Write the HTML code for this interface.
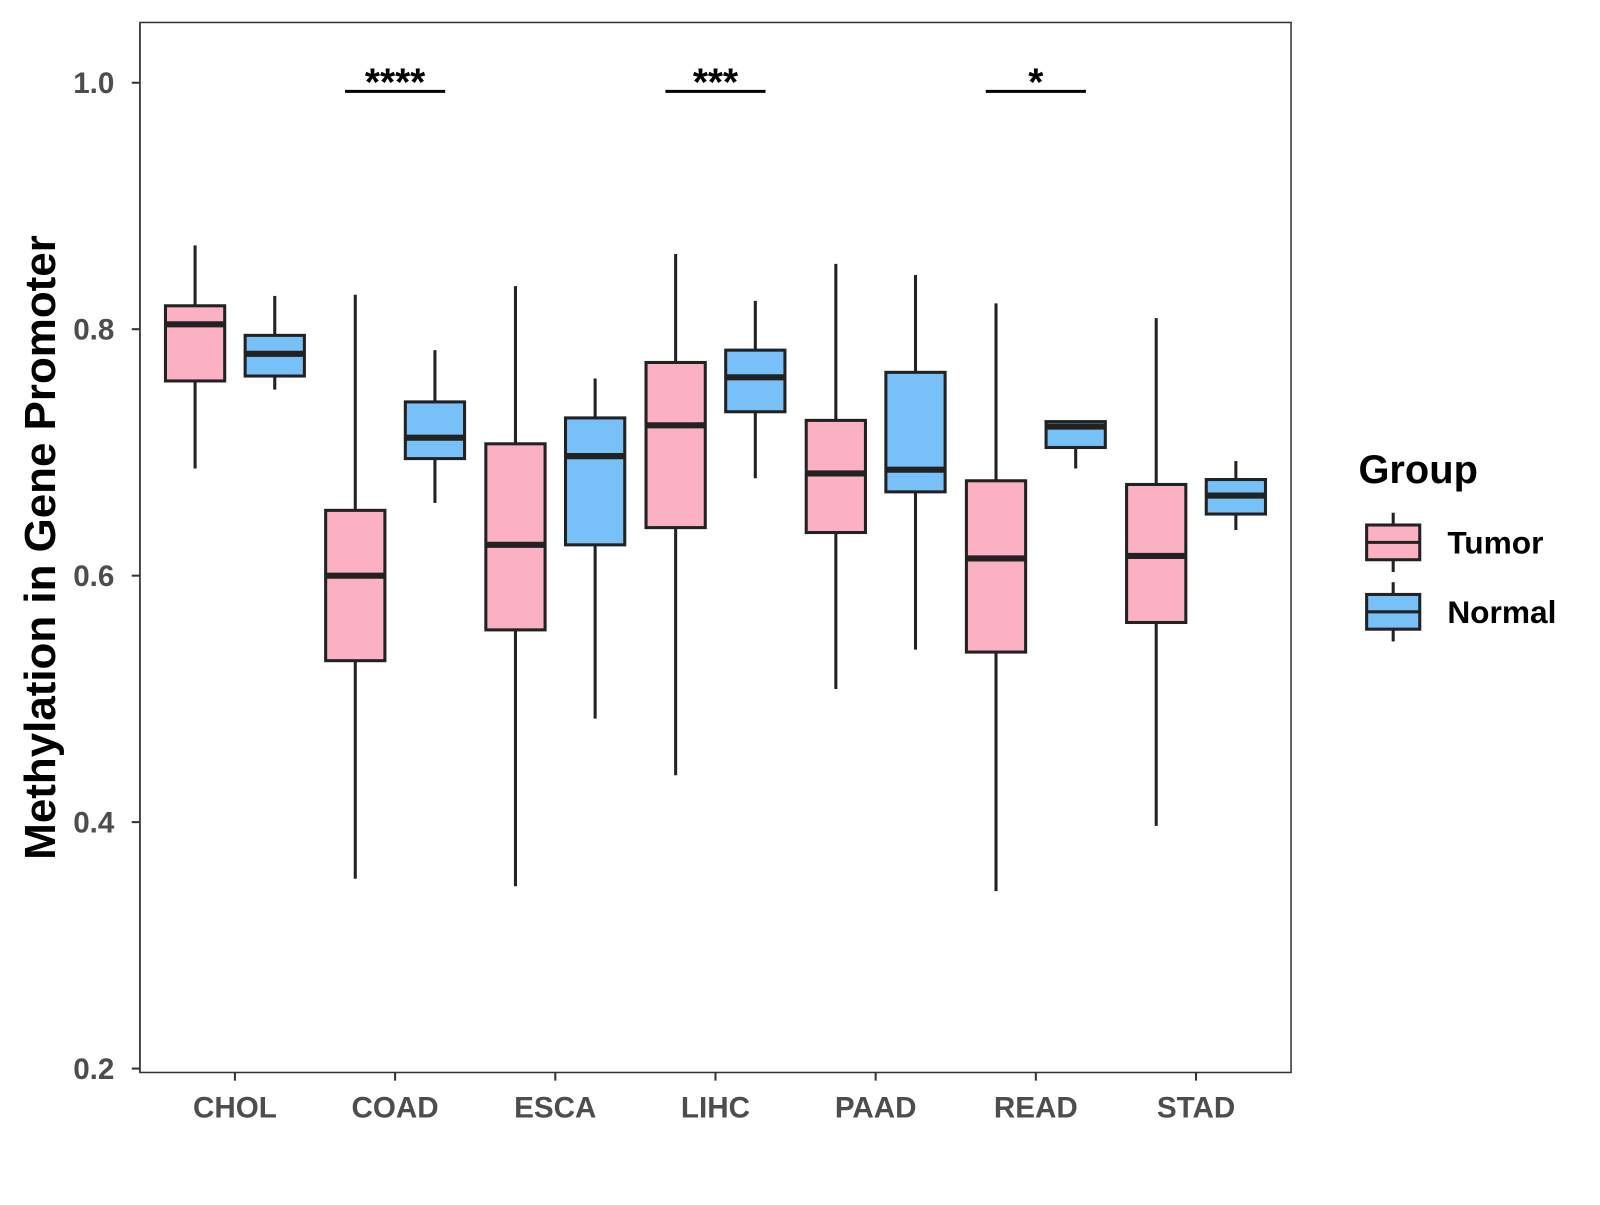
<!DOCTYPE html>
<html><head><meta charset="utf-8"><style>
html,body{margin:0;padding:0;background:#fff;}
svg text{font-family:"Liberation Sans",Arial,sans-serif;font-weight:bold;}
</style></head><body>
<svg id="chart" width="1600" height="1200" xmlns="http://www.w3.org/2000/svg">
<rect x="0" y="0" width="1600" height="1200" fill="#fff"/>
<g transform="scale(1.0214)">
<rect x="137" y="22" width="1127" height="1028" fill="none" stroke="#333" stroke-width="1.5"/>
<g id="marks"></g>
<text x="0" y="0" transform="translate(54,536) rotate(-90)" text-anchor="middle" font-size="43" fill="#000">Methylation in Gene Promoter</text>
<g>
<text x="1330" y="473" font-size="39" fill="#000">Group</text>
<g>
<line x1="1364" y1="502" x2="1364" y2="560" stroke="#222" stroke-width="3"/>
<rect x="1338" y="514" width="52" height="34" fill="#fbb1c3" stroke="#222" stroke-width="3"/>
<line x1="1338" y1="531" x2="1390" y2="531" stroke="#222" stroke-width="3"/>
<text x="1417" y="542" font-size="31" fill="#000">Tumor</text></g>
<g>
<line x1="1364" y1="570" x2="1364" y2="628" stroke="#222" stroke-width="3"/>
<rect x="1338" y="582" width="52" height="34" fill="#77c1f8" stroke="#222" stroke-width="3"/>
<line x1="1338" y1="599" x2="1390" y2="599" stroke="#222" stroke-width="3"/>
<text x="1417" y="610" font-size="31" fill="#000">Normal</text></g>
</g>
</g>
</svg>
<script>
const categories=["CHOL","COAD","ESCA","LIHC","PAAD","READ","STAD"];
// [lower whisker, q1, median, q3, upper whisker]
const tumorStats=[[0.687,0.758,0.804,0.819,0.868],[0.354,0.531,0.600,0.653,0.828],[0.348,0.556,0.625,0.707,0.835],[0.438,0.639,0.722,0.773,0.861],[0.508,0.635,0.683,0.726,0.853],[0.344,0.538,0.614,0.677,0.821],[0.397,0.562,0.616,0.674,0.809]];
const normalStats=[[0.751,0.762,0.780,0.795,0.827],[0.659,0.695,0.712,0.741,0.783],[0.484,0.625,0.697,0.728,0.760],[0.679,0.733,0.761,0.783,0.823],[0.540,0.668,0.686,0.765,0.844],[0.687,0.704,0.721,0.725,0.726],[0.637,0.650,0.665,0.678,0.693]];
const yTicks=[0.2,0.4,0.6,0.8,1.0];
const sigLabels=[{cat:"COAD",label:"****"},{cat:"LIHC",label:"***"},{cat:"READ",label:"*"}];
const sigLevel=0.993;

const NS="http://www.w3.org/2000/svg";
const g=document.getElementById("marks");
function y(v){return 81+(1.0-v)*1206.5;}
function x(i){return 230+i*156.83;}
function el(t,a){const e=document.createElementNS(NS,t);for(const k in a)e.setAttribute(k,a[k]);g.appendChild(e);return e;}
let ax=el("line",{x1:137,y1:22,x2:137,y2:1050,stroke:"#333","stroke-width":1.5});


yTicks.forEach(v=>{
  const tk=el("line",{x1:129,x2:137,y1:y(v),y2:y(v),stroke:"#333","stroke-width":2});
  
  
  const t=el("text",{x:112,y:y(v)+10,"text-anchor":"end","font-size":29,fill:"#4d4d4d"});
  t.textContent=v.toFixed(1);
  
  
});
categories.forEach((c,i)=>{
  const tk=el("line",{x1:x(i),x2:x(i),y1:1050,y2:1058,stroke:"#333","stroke-width":2});
  
  
  const t=el("text",{x:x(i),y:1094,"text-anchor":"middle","font-size":29,fill:"#4d4d4d"});
  t.textContent=c;
  
  
});
function box(cx,s,fill,name){
  const hw=29;
  const w1=el("line",{x1:cx,x2:cx,y1:y(s[4]),y2:y(s[3]),stroke:"#222","stroke-width":3});
  
  
  const w2=el("line",{x1:cx,x2:cx,y1:y(s[1]),y2:y(s[0]),stroke:"#222","stroke-width":3});
  
  
  const r=el("rect",{x:cx-hw,y:y(s[3]),width:2*hw,height:y(s[1])-y(s[3]),fill:fill,stroke:"#222","stroke-width":3});
  
  
  const m=el("line",{x1:cx-hw,x2:cx+hw,y1:y(s[2]),y2:y(s[2]),stroke:"#222","stroke-width":6});
  
  
}
categories.forEach((c,i)=>{
  box(x(i)-39,tumorStats[i],"#fbb1c3",c.toLowerCase()+'-tumor');
  box(x(i)+39,normalStats[i],"#77c1f8",c.toLowerCase()+'-normal');
});
sigLabels.forEach(s=>{
  const i=categories.indexOf(s.cat);
  const l=el("line",{x1:x(i)-49,x2:x(i)+49,y1:y(sigLevel),y2:y(sigLevel),stroke:"#000","stroke-width":3});
  
  
  const t=el("text",{x:x(i),y:y(sigLevel)+4,"text-anchor":"middle","font-size":38,fill:"#000"});
  t.textContent=s.label;
  
  
});
</script>
</body></html>
